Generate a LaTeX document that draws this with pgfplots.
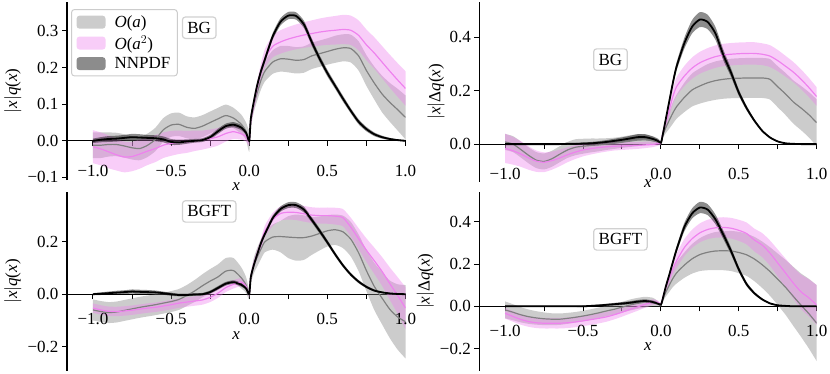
\documentclass[border=0pt]{standalone}
\usepackage{pgfplots}
\pgfplotsset{compat=1.18}
\usepackage{pgfplotstable}
\usepgfplotslibrary{fillbetween}
\usepackage{fontspec}
\setmainfont{Liberation Serif}
\newcommand\fs{\fontsize{17}{20}\selectfont}
\definecolor{oa}{RGB}{128,128,128}
\definecolor{ob}{RGB}{238,130,238}

% columns: x, O(a) mean, O(a) half-width, O(a^2) mean, half-width, NNPDF mean, half-width
\pgfplotstableread{
x a ae b be n ne
-1.00 -0.012 0.035 -0.016 0.045 0.000 0.006
-0.95 -0.012 0.035 -0.022 0.045 0.003 0.007
-0.90 -0.010 0.033 -0.030 0.045 0.005 0.008
-0.85 -0.010 0.032 -0.038 0.043 0.006 0.008
-0.80 -0.014 0.032 -0.044 0.042 0.008 0.008
-0.75 -0.019 0.032 -0.043 0.040 0.010 0.009
-0.70 -0.021 0.032 -0.036 0.040 0.009 0.009
-0.65 -0.012 0.032 -0.028 0.038 0.008 0.008
-0.60 0.004 0.032 -0.021 0.037 0.007 0.008
-0.55 0.030 0.032 -0.012 0.035 0.004 0.008
-0.50 0.043 0.032 -0.007 0.034 -0.003 0.008
-0.45 0.045 0.032 -0.004 0.032 -0.004 0.007
-0.40 0.037 0.030 -0.003 0.030 -0.002 0.006
-0.35 0.034 0.030 0.000 0.028 0.000 0.005
-0.30 0.040 0.030 0.002 0.026 0.002 0.005
-0.25 0.050 0.030 0.006 0.025 0.010 0.006
-0.20 0.060 0.030 0.011 0.024 0.026 0.007
-0.15 0.069 0.030 0.020 0.022 0.040 0.007
-0.10 0.062 0.028 0.025 0.020 0.044 0.007
-0.05 0.045 0.026 0.019 0.016 0.036 0.007
-0.02 0.026 0.024 0.012 0.014 0.022 0.006
0.00 0.000 0.030 0.000 0.012 0.000 0.005
0.01 0.055 0.020 0.055 0.015 0.060 0.005
0.03 0.100 0.020 0.102 0.018 0.108 0.006
0.05 0.130 0.022 0.142 0.020 0.150 0.007
0.075 0.165 0.025 0.188 0.022 0.190 0.008
0.10 0.190 0.028 0.225 0.025 0.222 0.008
0.15 0.215 0.032 0.258 0.030 0.285 0.009
0.20 0.224 0.035 0.270 0.032 0.325 0.010
0.25 0.223 0.036 0.278 0.033 0.342 0.010
0.30 0.220 0.036 0.284 0.034 0.341 0.010
0.35 0.222 0.036 0.289 0.035 0.318 0.010
0.40 0.232 0.036 0.293 0.036 0.270 0.010
0.45 0.238 0.036 0.297 0.037 0.225 0.009
0.50 0.244 0.036 0.300 0.038 0.185 0.009
0.55 0.250 0.037 0.302 0.039 0.150 0.008
0.60 0.254 0.037 0.304 0.040 0.115 0.008
0.65 0.252 0.038 0.302 0.040 0.082 0.007
0.70 0.232 0.040 0.288 0.041 0.052 0.007
0.75 0.192 0.042 0.262 0.042 0.032 0.006
0.80 0.158 0.045 0.240 0.043 0.018 0.005
0.85 0.128 0.050 0.215 0.044 0.010 0.004
0.90 0.105 0.053 0.190 0.045 0.005 0.003
0.95 0.085 0.057 0.166 0.046 0.002 0.002
1.00 0.064 0.060 0.143 0.047 0.000 0.002
}\tA

\pgfplotstableread{
x a ae b be n ne
-1.00 0.008 0.030 -0.016 0.055 0.000 0.003
-0.95 0.000 0.030 -0.025 0.052 0.000 0.003
-0.90 -0.020 0.030 -0.037 0.048 0.000 0.003
-0.85 -0.042 0.030 -0.052 0.044 0.000 0.003
-0.80 -0.060 0.030 -0.064 0.040 0.000 0.003
-0.75 -0.065 0.030 -0.068 0.037 0.000 0.003
-0.70 -0.055 0.030 -0.062 0.034 0.000 0.003
-0.65 -0.038 0.030 -0.052 0.031 0.000 0.003
-0.60 -0.022 0.030 -0.040 0.028 0.001 0.003
-0.55 -0.012 0.030 -0.030 0.026 0.001 0.003
-0.50 -0.008 0.028 -0.022 0.024 0.002 0.004
-0.45 -0.005 0.026 -0.017 0.022 0.003 0.005
-0.40 -0.003 0.024 -0.013 0.020 0.005 0.006
-0.35 0.000 0.022 -0.010 0.018 0.008 0.007
-0.30 0.003 0.021 -0.008 0.016 0.012 0.008
-0.25 0.007 0.021 -0.007 0.015 0.016 0.009
-0.20 0.011 0.022 -0.006 0.014 0.021 0.010
-0.15 0.015 0.022 -0.005 0.013 0.026 0.011
-0.10 0.016 0.020 -0.003 0.012 0.026 0.011
-0.05 0.013 0.016 -0.001 0.010 0.019 0.009
-0.02 0.010 0.012 0.002 0.008 0.012 0.007
0.00 0.005 0.008 0.005 0.006 0.005 0.005
0.01 0.030 0.010 0.035 0.012 0.030 0.006
0.03 0.060 0.020 0.080 0.020 0.090 0.008
0.05 0.085 0.030 0.120 0.025 0.150 0.010
0.075 0.115 0.040 0.175 0.030 0.225 0.012
0.10 0.140 0.045 0.215 0.035 0.290 0.015
0.15 0.175 0.055 0.255 0.038 0.378 0.020
0.20 0.203 0.062 0.285 0.040 0.440 0.025
0.25 0.218 0.066 0.305 0.041 0.467 0.028
0.30 0.230 0.070 0.318 0.042 0.458 0.027
0.35 0.238 0.072 0.328 0.042 0.415 0.024
0.40 0.243 0.073 0.334 0.042 0.335 0.020
0.45 0.246 0.074 0.337 0.042 0.268 0.016
0.50 0.247 0.075 0.339 0.042 0.193 0.012
0.55 0.248 0.075 0.340 0.042 0.135 0.009
0.60 0.248 0.075 0.340 0.042 0.088 0.006
0.65 0.248 0.075 0.337 0.041 0.050 0.004
0.70 0.243 0.076 0.330 0.041 0.025 0.003
0.75 0.215 0.077 0.313 0.040 0.010 0.002
0.80 0.188 0.079 0.292 0.039 0.003 0.001
0.85 0.158 0.081 0.270 0.038 0.001 0.001
0.90 0.135 0.083 0.243 0.037 0.000 0.001
0.95 0.110 0.085 0.212 0.036 0.000 0.001
1.00 0.080 0.088 0.178 0.035 0.000 0.001
}\tB

\pgfplotstableread{
x a ae b be n ne
-1.00 -0.060 0.040 -0.053 0.018 0.000 0.004
-0.95 -0.066 0.040 -0.060 0.018 0.002 0.005
-0.90 -0.070 0.040 -0.065 0.018 0.004 0.006
-0.85 -0.068 0.040 -0.066 0.018 0.006 0.007
-0.80 -0.062 0.040 -0.064 0.018 0.008 0.007
-0.75 -0.056 0.040 -0.061 0.018 0.010 0.008
-0.70 -0.050 0.040 -0.057 0.018 0.009 0.008
-0.65 -0.045 0.040 -0.053 0.018 0.008 0.008
-0.60 -0.040 0.040 -0.050 0.018 0.007 0.007
-0.55 -0.034 0.040 -0.045 0.018 0.004 0.006
-0.50 -0.028 0.040 -0.040 0.018 0.000 0.006
-0.45 -0.020 0.040 -0.034 0.018 -0.003 0.005
-0.40 -0.005 0.040 -0.030 0.018 -0.003 0.005
-0.35 0.012 0.042 -0.026 0.018 -0.001 0.005
-0.30 0.032 0.044 -0.022 0.018 0.000 0.005
-0.25 0.050 0.046 -0.012 0.018 0.008 0.006
-0.20 0.066 0.048 0.004 0.018 0.024 0.007
-0.15 0.088 0.050 0.025 0.017 0.040 0.007
-0.10 0.090 0.048 0.038 0.016 0.046 0.007
-0.05 0.062 0.040 0.046 0.015 0.036 0.007
-0.02 0.035 0.030 0.030 0.012 0.022 0.006
0.00 0.000 0.020 0.000 0.010 0.000 0.005
0.01 0.060 0.020 0.065 0.012 0.065 0.005
0.03 0.110 0.030 0.115 0.015 0.112 0.006
0.05 0.140 0.035 0.150 0.018 0.150 0.007
0.075 0.172 0.038 0.190 0.020 0.195 0.008
0.10 0.200 0.040 0.240 0.022 0.230 0.009
0.15 0.218 0.048 0.285 0.025 0.290 0.010
0.20 0.220 0.060 0.308 0.027 0.325 0.010
0.25 0.218 0.080 0.313 0.028 0.340 0.011
0.30 0.216 0.088 0.312 0.029 0.340 0.011
0.35 0.216 0.085 0.307 0.030 0.323 0.011
0.40 0.222 0.072 0.302 0.030 0.284 0.010
0.45 0.232 0.065 0.300 0.030 0.242 0.010
0.50 0.242 0.060 0.300 0.031 0.198 0.009
0.55 0.246 0.058 0.298 0.032 0.152 0.008
0.60 0.238 0.062 0.292 0.033 0.110 0.007
0.65 0.210 0.066 0.256 0.036 0.075 0.006
0.70 0.158 0.070 0.212 0.040 0.048 0.006
0.75 0.090 0.078 0.168 0.045 0.028 0.005
0.80 0.030 0.090 0.128 0.050 0.014 0.004
0.85 -0.015 0.100 0.087 0.055 0.007 0.003
0.90 -0.058 0.110 0.040 0.062 0.003 0.002
0.95 -0.087 0.125 -0.005 0.070 0.001 0.002
1.00 -0.105 0.140 -0.053 0.080 0.000 0.002
}\tC

\pgfplotstableread{
x a ae b be n ne
-1.00 -0.017 0.040 -0.033 0.025 0.000 0.003
-0.95 -0.028 0.038 -0.048 0.025 0.000 0.003
-0.90 -0.040 0.036 -0.062 0.025 0.000 0.003
-0.85 -0.049 0.034 -0.072 0.025 0.000 0.003
-0.80 -0.055 0.032 -0.078 0.025 0.000 0.003
-0.75 -0.059 0.030 -0.080 0.025 0.000 0.003
-0.70 -0.061 0.028 -0.080 0.025 0.000 0.003
-0.65 -0.061 0.027 -0.080 0.025 0.000 0.003
-0.60 -0.057 0.026 -0.078 0.025 0.000 0.003
-0.55 -0.052 0.025 -0.074 0.025 0.000 0.003
-0.50 -0.046 0.025 -0.069 0.025 0.000 0.004
-0.45 -0.039 0.025 -0.063 0.025 0.002 0.004
-0.40 -0.031 0.025 -0.057 0.024 0.004 0.005
-0.35 -0.022 0.025 -0.050 0.023 0.007 0.005
-0.30 -0.014 0.025 -0.040 0.022 0.010 0.006
-0.25 -0.004 0.025 -0.028 0.021 0.013 0.007
-0.20 0.006 0.026 -0.015 0.020 0.017 0.007
-0.15 0.014 0.026 -0.003 0.018 0.022 0.008
-0.10 0.020 0.025 0.010 0.016 0.025 0.008
-0.05 0.020 0.020 0.020 0.013 0.020 0.007
-0.02 0.012 0.012 0.018 0.010 0.013 0.006
0.00 0.005 0.006 0.010 0.006 0.008 0.005
0.01 0.030 0.010 0.035 0.012 0.030 0.005
0.03 0.065 0.020 0.085 0.020 0.090 0.008
0.05 0.095 0.030 0.125 0.025 0.140 0.010
0.075 0.130 0.040 0.175 0.030 0.205 0.012
0.10 0.158 0.050 0.215 0.035 0.268 0.015
0.15 0.195 0.060 0.278 0.040 0.375 0.020
0.20 0.225 0.070 0.320 0.043 0.440 0.024
0.25 0.245 0.078 0.348 0.045 0.468 0.027
0.30 0.256 0.085 0.364 0.046 0.458 0.026
0.35 0.262 0.090 0.372 0.047 0.412 0.023
0.40 0.263 0.092 0.374 0.048 0.340 0.020
0.45 0.262 0.095 0.370 0.049 0.262 0.017
0.50 0.255 0.098 0.360 0.050 0.175 0.013
0.55 0.244 0.100 0.345 0.052 0.105 0.010
0.60 0.224 0.105 0.314 0.054 0.062 0.007
0.65 0.197 0.110 0.290 0.057 0.033 0.005
0.70 0.165 0.115 0.252 0.060 0.014 0.003
0.75 0.128 0.122 0.205 0.064 0.005 0.002
0.80 0.090 0.130 0.158 0.068 0.002 0.001
0.85 0.047 0.140 0.110 0.074 0.000 0.001
0.90 0.005 0.150 0.068 0.082 0.000 0.001
0.95 -0.035 0.165 0.040 0.088 0.000 0.001
1.00 -0.080 0.180 0.006 0.095 0.000 0.001
}\tD

\newcommand\bands[2]{%
  \addplot[name path=au#2, draw=none, forget plot, smooth, tension=0.4] table[x=x, y expr=\thisrow{a}+\thisrow{ae}] {#1};
  \addplot[name path=al#2, draw=none, forget plot, smooth, tension=0.4] table[x=x, y expr=\thisrow{a}-\thisrow{ae}] {#1};
  \addplot[fill=oa, fill opacity=0.4, draw=none, forget plot] fill between[of=au#2 and al#2];
  \addplot[oa, line width=1.2pt, forget plot, smooth, tension=0.4] table[x=x, y=a] {#1};
  \addplot[name path=bu#2, draw=none, forget plot, smooth, tension=0.4] table[x=x, y expr=\thisrow{b}+\thisrow{be}] {#1};
  \addplot[name path=bl#2, draw=none, forget plot, smooth, tension=0.4] table[x=x, y expr=\thisrow{b}-\thisrow{be}] {#1};
  \addplot[fill=ob, fill opacity=0.4, draw=none, forget plot] fill between[of=bu#2 and bl#2];
  \addplot[ob, line width=1.2pt, forget plot, smooth, tension=0.4] table[x=x, y=b] {#1};
  \addplot[name path=nu#2, draw=none, forget plot, smooth, tension=0.4] table[x=x, y expr=\thisrow{n}+\thisrow{ne}] {#1};
  \addplot[name path=nl#2, draw=none, forget plot, smooth, tension=0.4] table[x=x, y expr=\thisrow{n}-\thisrow{ne}] {#1};
  \addplot[fill=black, fill opacity=0.45, draw=none, forget plot] fill between[of=nu#2 and nl#2];
  \addplot[black, line width=1.8pt, forget plot, smooth, tension=0.4] table[x=x, y=n] {#1};
}

\tikzset{lbl/.style={draw=black!18, line width=1.2pt, rounded corners=3pt, fill=white, inner xsep=5pt, inner ysep=5pt, font=\fs}}

\pgfplotsset{
  panel/.style={
    scale only axis,
    axis x line*=middle, axis y line*=left,
    xmin=-1.166, xmax=1.0,
    xtick={-1,-0.5,0,0.5,1},
    xticklabels={−1.0,−0.5,0.0,0.5,1.0},
    minor xtick={-0.75,-0.25,0.25,0.75},
    tick align=outside,
    major tick length=5pt, minor tick length=5pt,
    every tick/.style={black, line width=1pt},
    every minor tick/.style={black, line width=1pt},
    axis line style={line width=1.1pt},
    tick label style={font=\fs},
    label style={font=\fs},
    xlabel={\textit{x}},
  },
}

\begin{document}
\begin{tikzpicture}

% top-left
\begin{axis}[panel, at={(67pt,193pt)}, anchor=south west, width=338.5pt, height=178.3pt,
  ymin=-0.107, ymax=0.38,
  ytick={-0.1,0,0.1,0.2,0.3}, yticklabels={−0.1,0.0,0.1,0.2,0.3},
  xticklabel style={anchor=center, yshift=-25.5pt},
  xlabel style={at={(axis description cs:0.5,-0.039)}, anchor=center},
  ylabel={$|$\textit{x}$|$\textit{q}(\textit{x})},
  ylabel style={at={(axis description cs:-0.160,0.5)}, anchor=center},
  legend style={at={(axis description cs:0.012,0.959)}, anchor=north west, draw=black!20, line width=1pt, rounded corners=3pt, fill=white, font=\fs, inner xsep=5pt, inner ysep=4pt, row sep=2.5pt, /tikz/every odd column/.append style={column sep=7pt}},
  legend cell align=left,
  legend image code/.code={\fill[#1] (0pt,-6.5pt) rectangle (29pt,6.5pt);},
]
\addlegendimage{fill=oa, fill opacity=0.4, draw=none}
\addlegendentry{\textit{O}(\textit{a})}
\addlegendimage{fill=ob, fill opacity=0.4, draw=none}
\addlegendentry{\textit{O}(\textit{a}$^2$)}
\addlegendimage{fill=black, fill opacity=0.45, draw=none}
\addlegendentry{NNPDF}
\bands{\tA}{p}
\node[lbl] at (axis cs:-0.32,0.309) {BG};
\end{axis}

% top-right
\begin{axis}[panel, at={(479.3pt,191.3pt)}, anchor=south west, width=337.4pt, height=180pt,
  ymin=-0.141, ymax=0.534,
  ytick={0,0.2,0.4}, yticklabels={0.0,0.2,0.4},
  xticklabel style={anchor=center, yshift=-24.5pt},
  xlabel style={at={(axis description cs:0.5,-0.013)}, anchor=center},
  ylabel={$|$\textit{x}$|$Δ\textit{q}(\textit{x})},
  ylabel style={at={(axis description cs:-0.128,0.5)}, anchor=center},
]
\bands{\tB}{q}
\node[lbl] at (axis cs:-0.324,0.317) {BG};
\end{axis}

% bottom-left
\begin{axis}[panel, at={(67pt,2.3pt)}, anchor=south west, width=338.5pt, height=178.4pt,
  ymin=-0.292, ymax=0.389,
  ytick={-0.2,0,0.2}, yticklabels={−0.2,0.0,0.2},
  xticklabel style={anchor=center, yshift=-19.5pt},
  xlabel style={at={(axis description cs:0.5,0.197)}, anchor=center},
  ylabel={$|$\textit{x}$|$\textit{q}(\textit{x})},
  ylabel style={at={(axis description cs:-0.160,0.5)}, anchor=center},
]
\bands{\tC}{r}
\node[lbl] at (axis cs:-0.256,0.316) {BGFT};
\end{axis}

% bottom-right
\begin{axis}[panel, at={(479.3pt,2.3pt)}, anchor=south west, width=337.4pt, height=179pt,
  ymin=-0.305, ymax=0.543,
  ytick={-0.2,0,0.2,0.4}, yticklabels={−0.2,0.0,0.2,0.4},
  xticklabel style={anchor=center, yshift=-20pt},
  xlabel style={at={(axis description cs:0.5,0.135)}, anchor=center},
  ylabel={$|$\textit{x}$|$Δ\textit{q}(\textit{x})},
  ylabel style={at={(axis description cs:-0.16,0.5)}, anchor=center},
]
\bands{\tD}{s}
\node[lbl] at (axis cs:-0.26,0.317) {BGFT};
\end{axis}
\pgfresetboundingbox
\useasboundingbox (0,0) rectangle (830pt,373pt);
\end{tikzpicture}
\end{document}
